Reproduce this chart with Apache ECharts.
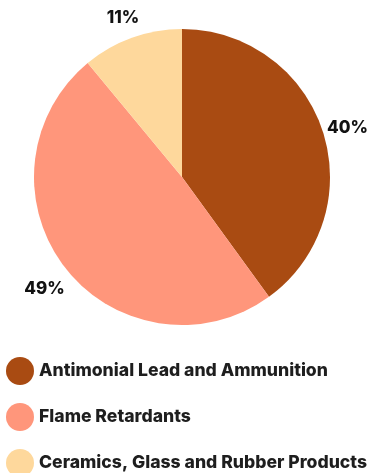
<!DOCTYPE html>
<html>
<head>
<meta charset="utf-8">
<script src="https://cdn.jsdelivr.net/npm/echarts@6/dist/echarts.min.js"></script>
<style>
html, body { margin: 0; padding: 0; background: #fff; }
#chart { width: 371px; height: 473px; }
</style>
</head>
<body>
<div id="chart"></div>
<script>
// data
var categories = ['Antimonial Lead and Ammunition', 'Flame Retardants', 'Ceramics, Glass and Rubber Products'];
var shares = [40, 49, 11];
var colors = ['#a94b12', '#ff967b', '#fed89c'];

var pieData = categories.map(function (name, i) {
    return { name: name, value: shares[i], itemStyle: { color: colors[i] } };
});

var myChart = echarts.init(document.getElementById('chart'));

var option = {
    animation: false,
    textStyle: { fontFamily: 'Inter' },
    legend: {
        orient: 'vertical',
        left: 1,
        top: 352,
        height: 200,
        icon: 'circle',
        itemWidth: 28,
        itemHeight: 28,
        itemGap: 18,
        selectedMode: false,
        textStyle: { fontSize: 17.6, fontWeight: 800, color: '#1e1e1e', fontFamily: 'Inter' },
        data: categories
    },
    series: [
        {
            type: 'pie',
            center: [182, 177],
            radius: [0, 148],
            startAngle: 90,
            clockwise: true,
            silent: true,
            label: { show: false },
            labelLine: { show: false },
            data: pieData
        },
        {
            // transparent ring that only carries the percentage labels
            type: 'pie',
            center: [182, 177],
            radius: [148, 194],
            startAngle: 90,
            clockwise: true,
            silent: true,
            itemStyle: { color: 'transparent' },
            label: {
                show: true,
                position: 'inside',
                formatter: '{c}%',
                fontSize: 17,
                fontWeight: 800,
                color: '#111',
                fontFamily: 'Inter',
                offset: [0, 5]
            },
            labelLine: { show: false },
            data: categories.map(function (name, i) {
                return { name: name, value: shares[i] };
            })
        }
    ]
};

myChart.setOption(option);
</script>
</body>
</html>
